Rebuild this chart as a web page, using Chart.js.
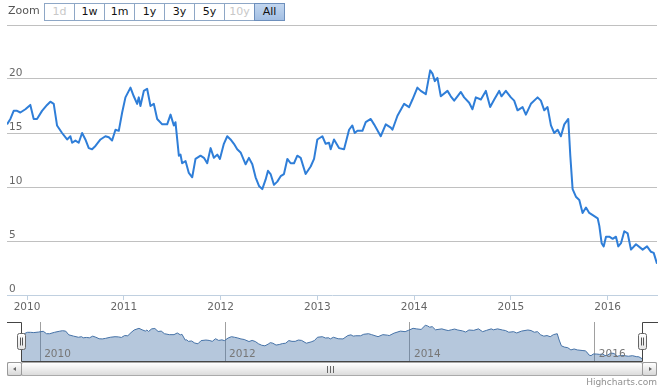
<!DOCTYPE html>
<html>
<head>
<meta charset="utf-8">
<script src="https://cdn.jsdelivr.net/npm/chart.js@4.4.1/dist/chart.umd.min.js"></script>
<style>
    body { margin: 0; background: #fff; font-family: 'DejaVu Sans', Verdana, sans-serif; }
    #wrap { position: relative; width: 665px; height: 392px; overflow: hidden; }
    #mainChart { position: absolute; left: 0; top: 0; }
    #navChart { position: absolute; left: 0; top: 318px; }

    /* range selector */
    .zoom-label { position: absolute; left: 8px; top: 4px; font-size: 11px; color: #555; }
    .btns { position: absolute; left: 44px; top: 3px; display: flex; }
    .btn {
        box-sizing: border-box; width: 31px; height: 18px; margin-left: -1px;
        border: 1px solid #8ea7c6; background: #fff;
        font-size: 11px; line-height: 16px; text-align: center; color: #111;
    }
    .btn:first-child { margin-left: 0; }
    .btn.off { color: #c8c8c8; }
    .btn.sel { background: linear-gradient(#c2d6ef, #a3bfe3); border-color: #6d8fbc; position: relative; }

    /* scrollbar */
    .track { position: absolute; left: 7px; top: 362px; width: 650px; height: 14px; box-sizing: border-box;
             background: linear-gradient(#eee, #fff); border: 1px solid #ccc; }
    .sbtn { position: absolute; top: 362px; width: 15px; height: 14px; box-sizing: border-box;
            background: linear-gradient(#fff, #d8d8d8); border: 1px solid #999; border-radius: 2px; }
    .sbtn.l { left: 7px; }
    .sbtn.r { left: 642px; }
    .sbtn::after { content: ''; position: absolute; top: 4px; width: 0; height: 0;
                   border-top: 2.5px solid transparent; border-bottom: 2.5px solid transparent; }
    .sbtn.l::after { left: 5px; border-right: 3px solid #666; }
    .sbtn.r::after { left: 6px; border-left: 3px solid #666; }
    .bar { position: absolute; left: 21px; top: 362px; width: 622px; height: 14px; box-sizing: border-box;
           background: linear-gradient(#fff, #dcdcdc); border: 1px solid #aaa; border-radius: 2px; }
    .grip { position: absolute; left: 305px; top: 3px; width: 7px; height: 7px;
            background: repeating-linear-gradient(90deg, #666 0 1px, transparent 1px 3px); }

    .credits { position: absolute; right: 8px; top: 377px; font-size: 9px; color: #909090; }
</style>
</head>
<body>
<div id="wrap">
    <canvas id="mainChart" width="665" height="318"></canvas>
    <canvas id="navChart" width="665" height="48"></canvas>

    <div class="zoom-label">Zoom</div>
    <div class="btns">
        <div class="btn off">1d</div>
        <div class="btn">1w</div>
        <div class="btn">1m</div>
        <div class="btn">1y</div>
        <div class="btn">3y</div>
        <div class="btn">5y</div>
        <div class="btn off">10y</div>
        <div class="btn sel">All</div>
    </div>

    <div class="track"></div>
    <div class="bar"><div class="grip"></div></div>
    <div class="sbtn l"></div>
    <div class="sbtn r"></div>

    <div class="credits">Highcharts.com</div>
</div>

<script>
/* ═══════════════════════════════════════════
   DATA (decimal years / price)
═══════════════════════════════════════════ */
const years = [
    2009.793, 2009.828, 2009.862, 2009.897, 2009.931, 2009.983, 2010.034, 2010.069, 2010.103, 2010.155,
    2010.207, 2010.241, 2010.276, 2010.310, 2010.362, 2010.414, 2010.448, 2010.466, 2010.500, 2010.534,
    2010.569, 2010.603, 2010.638, 2010.672, 2010.707, 2010.759, 2010.810, 2010.845, 2010.879, 2010.914,
    2010.948, 2010.983, 2011.017, 2011.069, 2011.103, 2011.138, 2011.155, 2011.172, 2011.207, 2011.241,
    2011.276, 2011.310, 2011.345, 2011.397, 2011.448, 2011.483, 2011.517, 2011.534, 2011.569, 2011.586,
    2011.603, 2011.638, 2011.672, 2011.707, 2011.741, 2011.793, 2011.828, 2011.862, 2011.897, 2011.931,
    2011.966, 2011.993, 2012.034, 2012.069, 2012.103, 2012.138, 2012.172, 2012.207, 2012.259, 2012.293,
    2012.328, 2012.362, 2012.397, 2012.431, 2012.466, 2012.490, 2012.517, 2012.552, 2012.586, 2012.621,
    2012.655, 2012.690, 2012.724, 2012.759, 2012.793, 2012.828, 2012.879, 2012.931, 2012.966, 2013.000,
    2013.052, 2013.086, 2013.121, 2013.138, 2013.172, 2013.224, 2013.276, 2013.328, 2013.362, 2013.386,
    2013.414, 2013.466, 2013.500, 2013.552, 2013.586, 2013.655, 2013.707, 2013.759, 2013.776, 2013.828,
    2013.897, 2013.948, 2013.983, 2014.034, 2014.069, 2014.121, 2014.166, 2014.190, 2014.214, 2014.241,
    2014.276, 2014.345, 2014.379, 2014.414, 2014.448, 2014.483, 2014.517, 2014.569, 2014.603, 2014.638,
    2014.690, 2014.741, 2014.786, 2014.828, 2014.879, 2014.903, 2014.948, 2015.000, 2015.034, 2015.069,
    2015.121, 2015.155, 2015.207, 2015.276, 2015.310, 2015.345, 2015.379, 2015.414, 2015.448, 2015.483,
    2015.517, 2015.552, 2015.593, 2015.614, 2015.638, 2015.672, 2015.707, 2015.741, 2015.776, 2015.810,
    2015.862, 2015.897, 2015.914, 2015.938, 2015.959, 2015.983, 2016.017, 2016.052, 2016.086, 2016.110,
    2016.138, 2016.172, 2016.207, 2016.241, 2016.293, 2016.362, 2016.407, 2016.448, 2016.476, 2016.510
];

const prices = [
    15.8, 16.3, 17.05, 17.05, 16.9, 17.2, 17.6, 16.3, 16.3, 17.05,
    17.6, 17.9, 17.7, 15.7, 15.0, 14.4, 14.7, 14.1, 14.3, 14.1,
    15.0, 14.4, 13.6, 13.5, 13.8, 14.4, 14.7, 14.6, 14.3, 15.3,
    15.2, 16.9, 18.3, 19.2, 18.4, 17.7, 18.3, 17.5, 18.9, 19.1,
    17.5, 17.7, 16.3, 15.8, 15.8, 16.7, 15.7, 16.0, 12.9, 13.0,
    12.2, 12.4, 11.3, 10.9, 12.6, 12.9, 12.7, 12.2, 13.6, 12.7,
    13.0, 12.6, 14.0, 14.7, 14.4, 14.0, 13.5, 13.2, 12.1, 12.7,
    12.1, 10.9, 10.1, 9.8, 10.7, 11.5, 11.2, 10.2, 10.5, 11.0,
    11.2, 12.6, 12.2, 12.2, 12.9, 12.7, 11.2, 11.9, 12.6, 14.4,
    14.7, 14.0, 14.1, 13.5, 14.4, 13.6, 13.5, 15.3, 15.7, 15.0,
    15.2, 15.2, 16.0, 16.3, 15.8, 14.7, 15.8, 15.5, 15.3, 16.6,
    17.7, 17.4, 18.1, 19.2, 18.9, 18.6, 20.8, 20.5, 19.8, 20.1,
    18.4, 18.9, 18.4, 18.0, 18.4, 18.8, 18.3, 17.8, 17.2, 18.3,
    18.1, 18.9, 17.4, 18.1, 18.9, 18.4, 18.9, 18.3, 18.0, 17.1,
    17.4, 16.7, 17.7, 18.3, 18.0, 17.1, 17.4, 15.7, 15.0, 15.3,
    14.7, 15.8, 16.3, 12.9, 9.8, 9.1, 8.8, 7.6, 8.1, 7.6,
    7.3, 7.1, 6.4, 4.8, 4.5, 5.4, 5.4, 5.2, 5.4, 4.5,
    4.8, 5.9, 5.7, 4.2, 4.7, 4.2, 4.5, 4.0, 3.9, 2.9
];

const xTickYears = [2010, 2011, 2012, 2013, 2014, 2015, 2016];
const navTickYears = [2010, 2012, 2014, 2016];
const yTicks = [0, 5, 10, 15, 20, 25];

const points = years.map((t, i) => ({ x: t, y: prices[i] }));
const xMin = years[0];
const xMax = years[years.length - 1];

const FONT = "'DejaVu Sans', Verdana, sans-serif";

/* ═══════════════════════════════════════════
   MAIN CHART
═══════════════════════════════════════════ */
new Chart(document.getElementById('mainChart'), {
    type: 'line',
    data: {
        datasets: [{
            data: points,
            borderColor: '#2f7ed8',
            borderWidth: 2,
            pointRadius: 0,
            tension: 0,
            borderJoinStyle: 'round',
            fill: false
        }]
    },
    options: {
        responsive: false,
        animation: false,
        devicePixelRatio: 1,
        layout: { padding: { top: 25, left: 7, right: 8, bottom: 0 } },
        plugins: { legend: { display: false }, tooltip: { enabled: false } },
        scales: {
            x: {
                type: 'linear',
                min: xMin,
                max: xMax,
                afterBuildTicks: scale => { scale.ticks = xTickYears.map(v => ({ value: v })); },
                afterFit: scale => { scale.height = 23; },
                grid: { drawOnChartArea: false, drawTicks: true, tickLength: 5, color: '#C0D0E0' },
                border: { display: true, color: '#C0D0E0' },
                ticks: {
                    color: '#666', padding: 1, maxRotation: 0, autoSkip: false,
                    font: { family: FONT, size: 10.5 },
                    callback: v => String(v)
                }
            },
            y: {
                min: 0,
                max: 25,
                afterBuildTicks: scale => { scale.ticks = yTicks.map(v => ({ value: v })); },
                afterFit: scale => { scale.width = 0; },
                grid: {
                    drawTicks: false,
                    color: ctx => ctx.tick && ctx.tick.value === 0 ? 'rgba(0,0,0,0)' : '#C0C0C0'
                },
                border: { display: false },
                ticks: {
                    mirror: true, padding: 2, labelOffset: -6, color: '#666',
                    font: { family: FONT, size: 10.5 },
                    callback: v => v === 25 ? '' : String(v)
                }
            }
        }
    }
});

/* ═══════════════════════════════════════════
   NAVIGATOR
═══════════════════════════════════════════ */
const navigatorExtras = {
    id: 'navigatorExtras',
    afterDatasetsDraw(chart) {
        const { ctx, chartArea: a, scales: { x } } = chart;
        ctx.save();

        // year labels inside the navigator
        ctx.font = '10.5px ' + FONT;
        ctx.fillStyle = '#777';
        ctx.textAlign = 'left';
        ctx.textBaseline = 'alphabetic';
        navTickYears.forEach(v => ctx.fillText(String(v), x.getPixelForValue(v) + 4, a.bottom - 5));

        // outline
        const L = Math.round(a.left) + 0.5, R = Math.round(a.right) + 0.5;
        const T = Math.round(a.top) + 0.5, B = Math.round(a.bottom) - 0.5;
        ctx.strokeStyle = '#444';
        ctx.lineWidth = 1;
        ctx.beginPath();
        ctx.moveTo(7, T);
        ctx.lineTo(L, T);
        ctx.lineTo(L, B);
        ctx.lineTo(R, B);
        ctx.lineTo(R, T);
        ctx.lineTo(658, T);
        ctx.stroke();

        // handles
        [L, R].forEach(hx => {
            const g = ctx.createLinearGradient(0, T + 11, 0, T + 27);
            g.addColorStop(0, '#fff');
            g.addColorStop(1, '#e4e4e4');
            ctx.fillStyle = g;
            ctx.strokeStyle = '#666';
            ctx.beginPath();
            ctx.roundRect(hx - 4, T + 11, 8, 16, 2);
            ctx.fill();
            ctx.stroke();
            ctx.beginPath();
            ctx.moveTo(hx - 1, T + 15); ctx.lineTo(hx - 1, T + 23);
            ctx.moveTo(hx + 1, T + 15); ctx.lineTo(hx + 1, T + 23);
            ctx.strokeStyle = '#555';
            ctx.stroke();
        });
        ctx.restore();
    }
};

const navMin = Math.min(...prices), navMax = Math.max(...prices);
const navPad = (navMax - navMin) * 0.1;

new Chart(document.getElementById('navChart'), {
    type: 'line',
    data: {
        datasets: [{
            data: points,
            borderColor: '#4572A7',
            borderWidth: 1,
            backgroundColor: 'rgba(69,114,167,0.4)',
            pointRadius: 0,
            tension: 0,
            fill: 'start'
        }]
    },
    options: {
        responsive: false,
        animation: false,
        devicePixelRatio: 1,
        layout: { padding: { top: 4, left: 21, right: 23, bottom: 4 } },
        plugins: { legend: { display: false }, tooltip: { enabled: false } },
        scales: {
            x: {
                type: 'linear',
                min: xMin,
                max: xMax,
                afterBuildTicks: scale => { scale.ticks = navTickYears.map(v => ({ value: v })); },
                afterFit: scale => { scale.height = 0; },
                grid: { drawTicks: false, color: '#a0a0a0' },
                border: { display: false },
                ticks: { display: false }
            },
            y: {
                display: false,
                min: navMin - navPad,
                max: navMax + navPad
            }
        }
    },
    plugins: [navigatorExtras]
});
</script>
</body>
</html>
